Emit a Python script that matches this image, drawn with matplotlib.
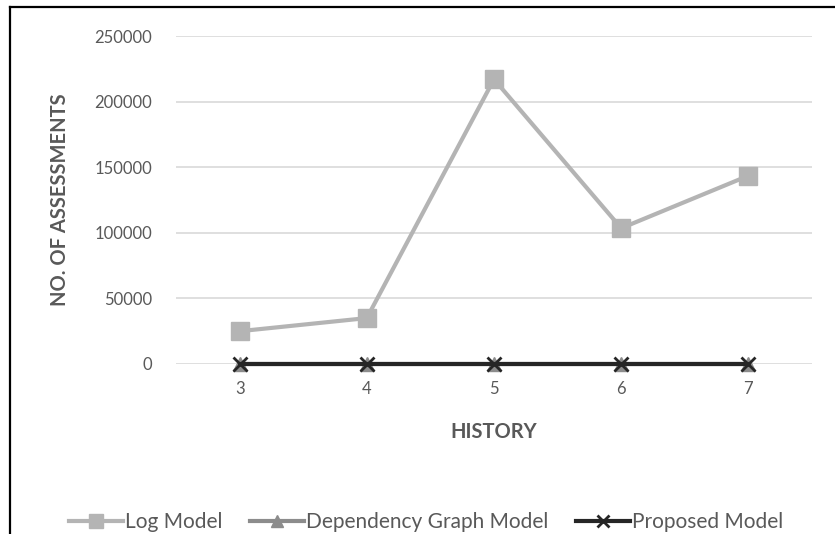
import matplotlib
matplotlib.use('Agg')
import matplotlib.pyplot as plt
from matplotlib.lines import Line2D

history = [3, 4, 5, 6, 7]
log_model = [25000, 35000, 217000, 103500, 143500]
dep_graph_model = [0, 0, 0, 0, 0]
proposed_model = [0, 0, 0, 0, 0]
yticks = [0, 50000, 100000, 150000, 200000, 250000]

plt.rcParams['font.family'] = ['Lato', 'DejaVu Sans']
txt = '#595959'

fig = plt.figure(figsize=(8.35, 5.34), dpi=100)
ax = fig.add_axes([176/835, (534-364)/534, (812-176)/835, (364-36)/534])

ax.plot(history, log_model, color='#b4b4b4', lw=3, marker='s', ms=12.5,
        label='Log Model', zorder=3)
ax.plot(history, dep_graph_model, color='#8c8c8c', lw=3, marker='^', ms=10.5,
        label='Dependency Graph Model', zorder=4)
ax.plot(history, proposed_model, color='#262626', lw=3, marker='x', ms=10,
        mew=2, label='Proposed Model', zorder=5)

ax.set_xlim(2.5, 7.5)
ax.set_ylim(0, 250000)
ax.set_xticks(history)
ax.set_yticks(yticks)
ax.tick_params(length=0, labelsize=12, colors=txt)
ax.tick_params(axis='y', pad=17)
ax.tick_params(axis='x', pad=12)
ax.grid(axis='y', color='#d9d9d9', lw=1.2)
ax.set_axisbelow(True)
for s in ax.spines.values():
    s.set_visible(False)
for l in ax.lines:
    l.set_clip_on(False)

ax.set_xlabel('HISTORY', fontsize=14.5, fontweight='bold', color=txt, va='center')
ax.xaxis.set_label_coords(0.5, (364-432)/328)
ax.set_ylabel('NO. OF ASSESSMENTS', fontsize=14.5, fontweight='bold', color=txt, va='center')
ax.yaxis.set_label_coords((60-176)/636, 0.5)

leg = fig.legend(loc='center', bbox_to_anchor=(426/835, 1 - 522/534), ncol=3,
                 frameon=False, fontsize=15, handlelength=2.6, columnspacing=1.3,
                 handletextpad=0.1, markerscale=0.85)
for t in leg.get_texts():
    t.set_color(txt)

# page border (left and top edges)
fig.add_artist(Line2D([10/835, 10/835], [0, 1 - 7/534], color='black', lw=1.6,
                      transform=fig.transFigure))
fig.add_artist(Line2D([10/835, 1], [1 - 7/534, 1 - 7/534], color='black', lw=1.6,
                      transform=fig.transFigure))

fig.savefig('out.png', dpi=100)
